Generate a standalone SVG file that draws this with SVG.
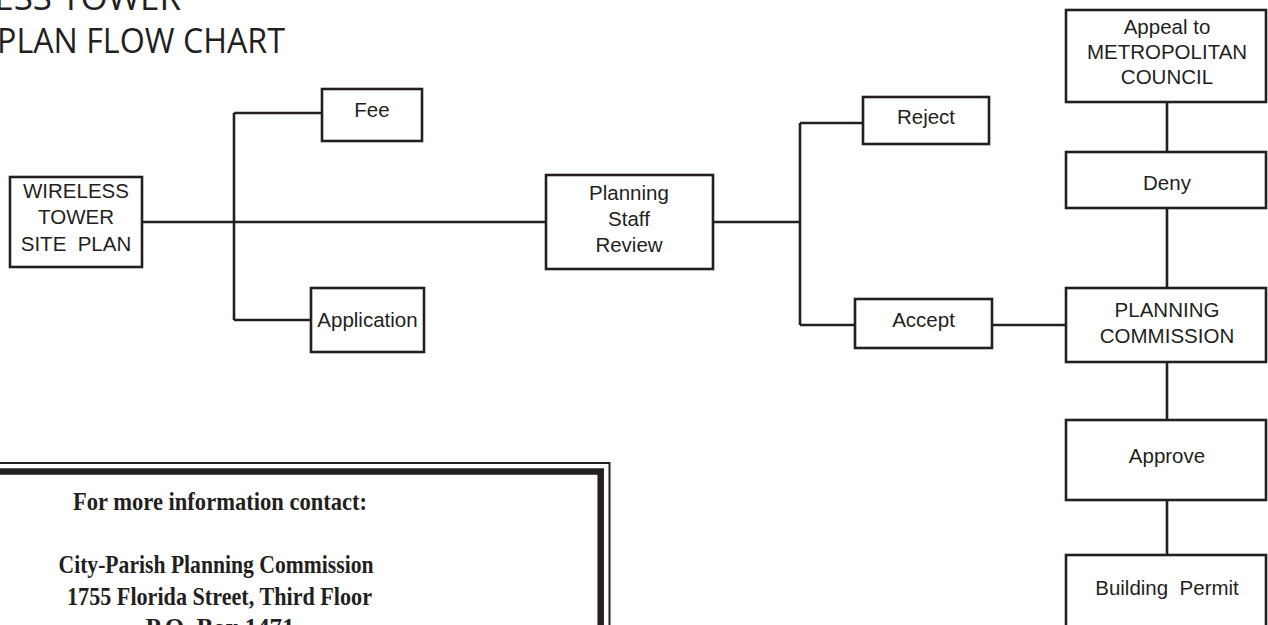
<svg xmlns="http://www.w3.org/2000/svg" width="1268" height="625" viewBox="0 0 1268 625">
<style>
.box{fill:#fff;stroke:#231f20;stroke-width:2.6}
.c{fill:none;stroke:#231f20;stroke-width:2.6}
.t{font-family:"Liberation Sans",Arial,sans-serif;font-size:20.5px;fill:#231f20;text-anchor:middle}
.title{font-family:"Open Sans","Noto Sans",sans-serif;font-size:35px;fill:#231f20}
.info{font-family:"Liberation Serif","Times New Roman",serif;font-weight:bold;font-size:25px;fill:#231f20;text-anchor:middle}
</style>
<rect x="0" y="0" width="1268" height="625" fill="#fff"/>
<g id="title">
<text class="title" x="181" y="10" text-anchor="end">ELESS TOWER</text>
<text class="title" x="-3" y="53" textLength="288" lengthAdjust="spacingAndGlyphs">PLAN FLOW CHART</text>
</g>
<g id="connectors">
<path class="c" d="M142 222H546M234 113V320M234 113H322M234 320H311"/>
<path class="c" d="M713 222H800M800 123V325M800 123H863M800 325H855M992 325H1066"/>
<path class="c" d="M1167 102V152M1167 208V288M1167 362V420M1167 500V555"/>
</g>
<g id="n-site">
<rect class="box" x="10" y="177" width="132" height="90"/>
<text class="t" x="76" xml:space="preserve"><tspan x="76" y="198">WIRELESS</tspan><tspan x="76" y="224">TOWER</tspan><tspan x="76" y="251">SITE  PLAN</tspan></text>
</g>
<g id="n-fee">
<rect class="box" x="322" y="89" width="100" height="52"/>
<text class="t" x="372" y="117">Fee</text>
</g>
<g id="n-app">
<rect class="box" x="311" y="288" width="113" height="64"/>
<text class="t" x="367.5" y="327">Application</text>
</g>
<g id="n-psr">
<rect class="box" x="546" y="175" width="167" height="94"/>
<text class="t"><tspan x="629" y="200">Planning</tspan><tspan x="629" y="226">Staff</tspan><tspan x="629" y="252">Review</tspan></text>
</g>
<g id="n-reject">
<rect class="box" x="863" y="97" width="126" height="47"/>
<text class="t" x="926" y="124">Reject</text>
</g>
<g id="n-accept">
<rect class="box" x="855" y="299" width="137" height="49"/>
<text class="t" x="923.5" y="327">Accept</text>
</g>
<g id="n-appeal">
<rect class="box" x="1066" y="10" width="200" height="92"/>
<text class="t"><tspan x="1167" y="33.5">Appeal to</tspan><tspan x="1167" y="59">METROPOLITAN</tspan><tspan x="1167" y="84">COUNCIL</tspan></text>
</g>
<g id="n-deny">
<rect class="box" x="1066" y="152" width="200" height="56"/>
<text class="t" x="1167" y="190">Deny</text>
</g>
<g id="n-pc">
<rect class="box" x="1066" y="288" width="200" height="74"/>
<text class="t"><tspan x="1167" y="317">PLANNING</tspan><tspan x="1167" y="343">COMMISSION</tspan></text>
</g>
<g id="n-approve">
<rect class="box" x="1066" y="420" width="200" height="80"/>
<text class="t" x="1167" y="463">Approve</text>
</g>
<g id="n-permit">
<rect class="box" x="1066" y="555" width="200" height="90"/>
<text class="t" x="1167" y="595" xml:space="preserve">Building  Permit</text>
</g>
<g id="info">
<rect x="-200" y="463" width="809.5" height="300" fill="none" stroke="#231f20" stroke-width="2"/>
<rect x="-200" y="471.5" width="800.7" height="300" fill="none" stroke="#231f20" stroke-width="6.5"/>
<text class="info" x="220" y="510" textLength="294" lengthAdjust="spacingAndGlyphs">For more information contact:</text>
<text class="info" x="216" y="573" textLength="315" lengthAdjust="spacingAndGlyphs">City-Parish Planning Commission</text>
<text class="info" x="219.5" y="605" textLength="305" lengthAdjust="spacingAndGlyphs">1755 Florida Street, Third Floor</text>
<text class="info" x="220" y="636">P.O. Box 1471</text>
</g>
</svg>
